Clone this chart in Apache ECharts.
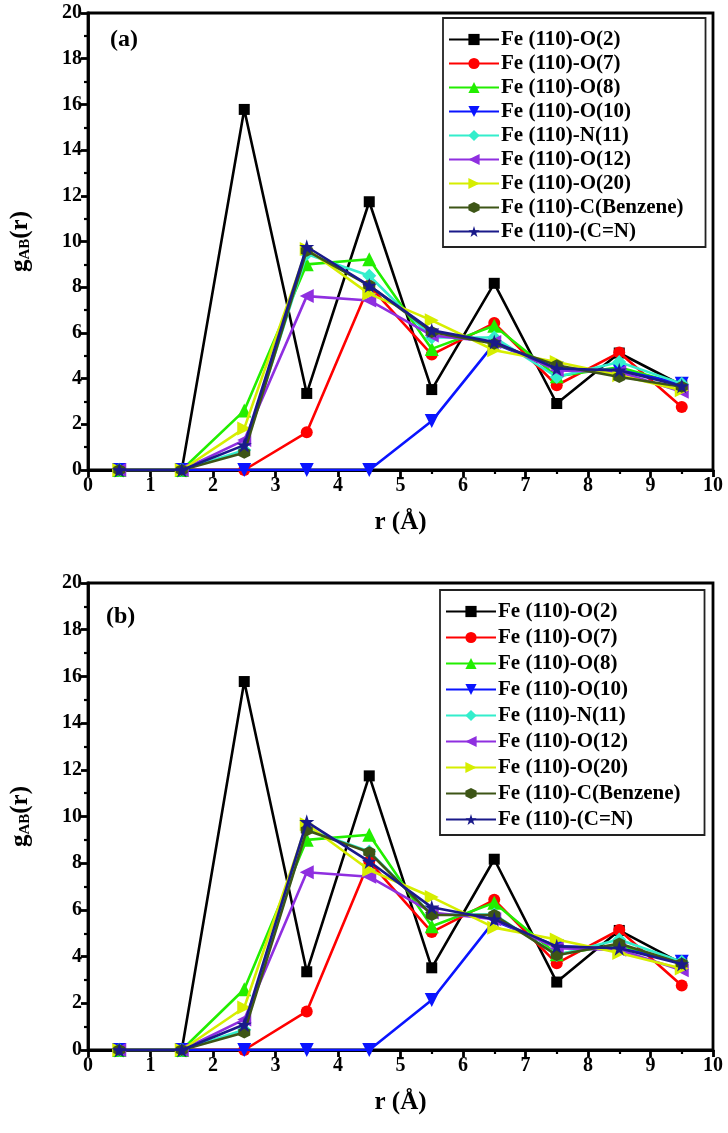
<!DOCTYPE html>
<html>
<head>
<meta charset="utf-8">
<script src="https://cdn.jsdelivr.net/npm/echarts@6/dist/echarts.min.js"></script>
<style>
html,body{margin:0;padding:0;background:#fff;}
#c{width:728px;height:1133px;}
</style>
</head>
<body>
<div id="c"></div>
<script>
// ---- data ----
const rValues = [0.5, 1.5, 2.5, 3.5, 4.5, 5.5, 6.5, 7.5, 8.5, 9.5];
const seriesNames = ['Fe (110)-O(2)', 'Fe (110)-O(7)', 'Fe (110)-O(8)', 'Fe (110)-O(10)', 'Fe (110)-N(11)', 'Fe (110)-O(12)', 'Fe (110)-O(20)', 'Fe (110)-C(Benzene)', 'Fe (110)-(C=N)'];
const o2  = [0, 0, 15.78, 3.35, 11.74, 3.52, 8.17, 2.91, 5.12, 3.71];
const o7  = [0, 0, 0, 1.65, 8.07, 5.05, 6.43, 3.71, 5.14, 2.76];
const o8  = [0, 0, 2.6, 9.0, 9.22, 5.3, 6.31, 4.1, 4.5, 3.73];
const o10 = [0, 0, 0, 0, 0, 2.14, 5.53, 4.44, 4.36, 3.78];
const n11 = [0, 0, 0.87, 9.45, 8.5, 5.8, 5.8, 4.07, 4.73, 3.78];
const o12 = [0, 0, 1.31, 7.61, 7.42, 5.89, 5.6, 4.36, 4.29, 3.42];
const o20 = [0, 0, 1.82, 9.67, 7.71, 6.55, 5.24, 4.73, 4.15, 3.49];
const benzeneA = [0, 0, 0.76, 9.6, 8.07, 6.04, 5.53, 4.58, 4.07, 3.64];
const benzeneB = [0, 0, 0.75, 9.41, 8.47, 5.78, 5.78, 4.06, 4.56, 3.7];
const cn  = [0, 0, 1.09, 9.77, 8.07, 6.11, 5.6, 4.44, 4.36, 3.68];
const panelA = [o2, o7, o8, o10, n11, o12, o20, benzeneA, cn];
const panelB = [o2, o7, o8, o10, n11, o12, o20, benzeneB, cn];
const xTicks = [0, 1, 2, 3, 4, 5, 6, 7, 8, 9, 10];
const yTicks = [0, 2, 4, 6, 8, 10, 12, 14, 16, 18, 20];

// ---- styles ----
const colors = ['#000000', '#ff0000', '#22ee00', '#0a14ff', '#33eecc', '#8f2fe0', '#d6ee00', '#3d5516', '#1a1a8a'];
const hexPath = 'path://M0,-1 L0.866,-0.5 L0.866,0.5 L0,1 L-0.866,0.5 L-0.866,-0.5 Z';
const starPath = 'path://M0,-1 L0.2245,-0.309 L0.951,-0.309 L0.363,0.118 L0.588,0.809 L0,0.382 L-0.588,0.809 L-0.363,0.118 L-0.951,-0.309 L-0.2245,-0.309 Z';
const symbols = ['rect', 'circle', 'triangle', 'triangle', 'diamond', 'triangle', 'triangle', hexPath, starPath];
const rotations = [0, 0, 0, 180, 0, 90, -90, 0, 0];
const sizes = [11, 12, 14, 14, 14, 14, 14, 12, 15];
const FONT = '"Liberation Serif", "Times New Roman", serif';

const grids = [
  {left: 88, right: 15, top: 13, height: 457},
  {left: 86, right: 15, top: 583, height: 467}
];

function xAxis(i) {
  return {
    type: 'value', gridIndex: i, min: 0, max: 10, interval: 1,
    name: 'r (Å)', nameLocation: 'middle', nameGap: 40,
    nameTextStyle: {fontFamily: FONT, fontWeight: 'bold', fontSize: 25, color: '#000'},
    axisLine: {show: true, onZero: false, lineStyle: {color: '#000', width: 2.8}},
    axisTick: {show: true, inside: false, length: 7, lineStyle: {color: '#000', width: 2.8}},
    minorTick: {show: true, splitNumber: 2, length: 4, lineStyle: {color: '#000', width: 2.2}},
    axisLabel: {fontFamily: FONT, fontWeight: 'bold', fontSize: 20, color: '#000', margin: 6,
      formatter: v => xTicks.includes(v) ? String(v) : ''},
    splitLine: {show: false}
  };
}
function yAxis(i) {
  return {
    type: 'value', gridIndex: i, min: 0, max: 20, interval: 2,
    name: '{g|g}{s|AB}{g|(r)}', nameLocation: 'middle', nameGap: 55, nameRotate: 90,
    nameTextStyle: {rich: {
      g: {fontFamily: FONT, fontWeight: 'bold', fontSize: 25, color: '#000'},
      s: {fontFamily: FONT, fontWeight: 'bold', fontSize: 15, color: '#000', verticalAlign: 'bottom', padding: [10, 0, 0, 0]}
    }},
    axisLine: {show: true, onZero: false, lineStyle: {color: '#000', width: 2.8}},
    axisTick: {show: true, inside: false, length: 7, lineStyle: {color: '#000', width: 2.8}},
    minorTick: {show: true, splitNumber: 2, length: 4, lineStyle: {color: '#000', width: 2.2}},
    axisLabel: {fontFamily: FONT, fontWeight: 'bold', fontSize: 20, color: '#000', margin: 6,
      formatter: v => yTicks.includes(v) ? String(v) : ''},
    splitLine: {show: false}
  };
}

function makeSeries(panel, gi) {
  return panel.map((vals, k) => ({
    name: seriesNames[k], type: 'line', xAxisIndex: gi, yAxisIndex: gi,
    data: rValues.map((r, j) => [r, vals[j]]),
    symbol: symbols[k], symbolRotate: rotations[k], symbolSize: sizes[k],
    color: colors[k],
    lineStyle: {color: colors[k], width: 2.6},
    itemStyle: {color: colors[k]},
    z: 2 + k,
    animation: false
  }));
}

function legend(top, left, gap, padRight) {
  return {
    orient: 'vertical', left: left, top: top,
    data: seriesNames,
    itemWidth: 50, itemHeight: 14, itemGap: gap,
    borderColor: '#222', borderWidth: 1.8,
    padding: [11, padRight, 5, 5],
    textStyle: {fontFamily: FONT, fontWeight: 'bold', fontSize: 21, color: '#000', lineHeight: 21, padding: [0, 0, 0, -3]},
    selectedMode: false
  };
}

const chart = echarts.init(document.getElementById('c'), null, {renderer: 'canvas'});
chart.setOption({
  backgroundColor: '#fff',
  animation: false,
  grid: grids.map(g => Object.assign({show: true, borderColor: '#000', borderWidth: 2.8, backgroundColor: 'transparent'}, g)),
  xAxis: [xAxis(0), xAxis(1)],
  yAxis: [yAxis(0), yAxis(1)],
  legend: [legend(18, 443, 3, 22), legend(590, 440, 5, 24)],
  graphic: [
    {type: 'text', left: 110, top: 28, style: {text: '(a)', font: 'bold 24px ' + FONT, fill: '#000'}},
    {type: 'text', left: 106, top: 605, style: {text: '(b)', font: 'bold 24px ' + FONT, fill: '#000'}}
  ],
  series: makeSeries(panelA, 0).concat(makeSeries(panelB, 1))
});
</script>
</body>
</html>
